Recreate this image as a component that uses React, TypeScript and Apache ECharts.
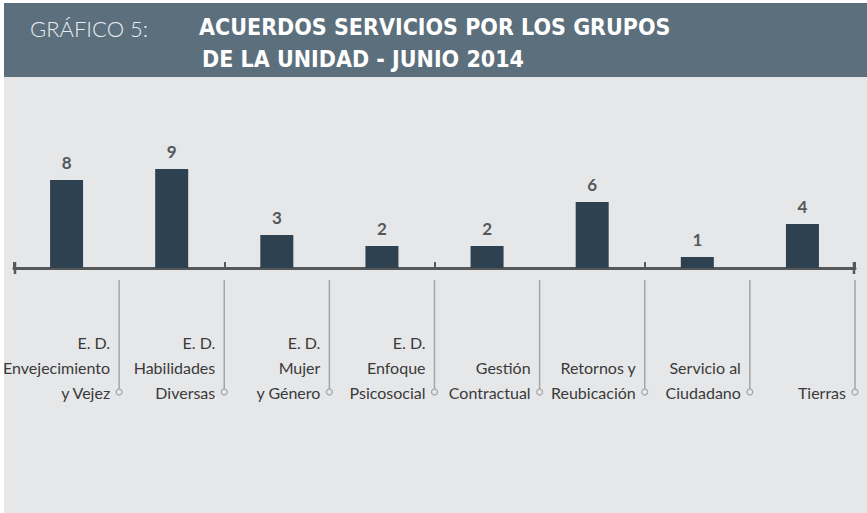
import React, { useEffect, useRef } from "react";
import * as echarts from "echarts";

const categories = [
  "E. D. Envejecimiento y Vejez",
  "E. D. Habilidades Diversas",
  "E. D. Mujer y Género",
  "E. D. Enfoque Psicosocial",
  "Gestión Contractual",
  "Retornos y Reubicación",
  "Servicio al Ciudadano",
  "Tierras",
];
const categoryLabels = [
  "E. D.\nEnvejecimiento\ny Vejez",
  "E. D.\nHabilidades\nDiversas",
  "E. D.\nMujer\ny Género",
  "E. D.\nEnfoque\nPsicosocial",
  "Gestión\nContractual",
  "Retornos y\nReubicación",
  "Servicio al\nCiudadano",
  "Tierras",
];
const acuerdos = [8, 9, 3, 2, 2, 6, 1, 4];
const titleLabel = "GRÁFICO 5:";
const titleLine1 = "ACUERDOS SERVICIOS POR LOS GRUPOS";
const titleLine2 = "DE LA UNIDAD - JUNIO 2014";

const FONT = "Lato, 'Open Sans', sans-serif";
const TITLE_FONT = "'DejaVu Sans Condensed', 'Liberation Sans Narrow', sans-serif";
const PANEL = "#e6e7e9";

export default function App() {
  const ref = useRef<HTMLDivElement>(null);
  useEffect(() => {
    if (!ref.current) return;
    const chart = echarts.init(ref.current, undefined, { renderer: "svg" });
    const n = categories.length;
    chart.setOption({
      animation: false,
      backgroundColor: "#ffffff",
      graphic: [
        { type: "rect", left: 4, top: 77, shape: { width: 863, height: 436 }, style: { fill: PANEL }, z: -10 },
        { type: "rect", left: 4, top: 3, shape: { width: 863, height: 74 }, style: { fill: "#5c6f7c" }, z: -10 },
        {
          type: "text", left: 30, top: 17,
          style: { text: titleLabel, fill: "#e9edf0", font: `300 22px ${FONT}` },
        },
        {
          type: "text", left: 199, top: 15,
          style: { text: titleLine1, fill: "#ffffff", font: `bold 23px ${TITLE_FONT}` },
        },
        {
          type: "text", left: 202, top: 47,
          style: { text: titleLine2, fill: "#ffffff", font: `bold 23px ${TITLE_FONT}` },
        },
      ],
      grid: { left: 14, right: 12, top: 158, bottom: 245, containLabel: false },
      xAxis: {
        type: "category",
        data: categories,
        boundaryGap: true,
        axisLine: { show: true, lineStyle: { color: "#555759", width: 3 } },
        axisTick: { show: true, inside: true, length: 6, lineStyle: { color: "#555759", width: 2 } },
        axisLabel: { show: false },
        splitLine: { show: false },
      },
      yAxis: { type: "value", min: 0, max: 10, show: false, splitLine: { show: false } },
      series: [
        {
          type: "bar",
          data: acuerdos,
          barWidth: 33,
          itemStyle: { color: "#2e4150" },
          z: 1,
          label: {
            show: true,
            position: "top",
            distance: 9,
            color: "#555759",
            fontSize: 17,
            fontWeight: "bold",
            fontFamily: FONT,
          },
        },
        {
          type: "custom",
          silent: true,
          z: 5,
          data: categoryLabels.map((_, i) => [i, 0]),
          encode: { x: 0, y: 1 },
          renderItem: (params: any, api: any) => {
            const idx = api.value(0);
            const pt = api.coord([idx, 0]);
            const w = api.size([1, 0])[0];
            const right = pt[0] + w / 2;
            const left = pt[0] - w / 2;
            const y0 = pt[1];
            const children: any[] = [
              {
                type: "line",
                shape: { x1: right, y1: y0 + 12, x2: right, y2: y0 + 121 },
                style: { stroke: "#a3a5a8", lineWidth: 1.5 },
              },
              {
                type: "circle",
                shape: { cx: right, cy: y0 + 124, r: 3 },
                style: { stroke: "#a3a5a8", lineWidth: 1.2, fill: PANEL },
              },
              {
                type: "text",
                style: {
                  text: categoryLabels[idx],
                  x: right - 9,
                  y: y0 + 137,
                  align: "right",
                  verticalAlign: "bottom",
                  lineHeight: 25,
                  fontSize: 16,
                  fontFamily: FONT,
                  fill: "#3a3a3a",
                },
              },
            ];
            if (idx === 0) {
              children.push({
                type: "line",
                shape: { x1: left + 1, y1: y0 - 6, x2: left + 1, y2: y0 + 6 },
                style: { stroke: "#555759", lineWidth: 2.5 },
              });
            }
            if (idx === n - 1) {
              children.push({
                type: "line",
                shape: { x1: right - 1, y1: y0 - 6, x2: right - 1, y2: y0 + 6 },
                style: { stroke: "#555759", lineWidth: 2.5 },
              });
            }
            return { type: "group", children };
          },
        },
      ],
    });
    return () => chart.dispose();
  }, []);
  return (
    <div
      ref={ref}
      style={{ position: "fixed", left: 0, top: 0, width: 867, height: 513 }}
    />
  );
}
